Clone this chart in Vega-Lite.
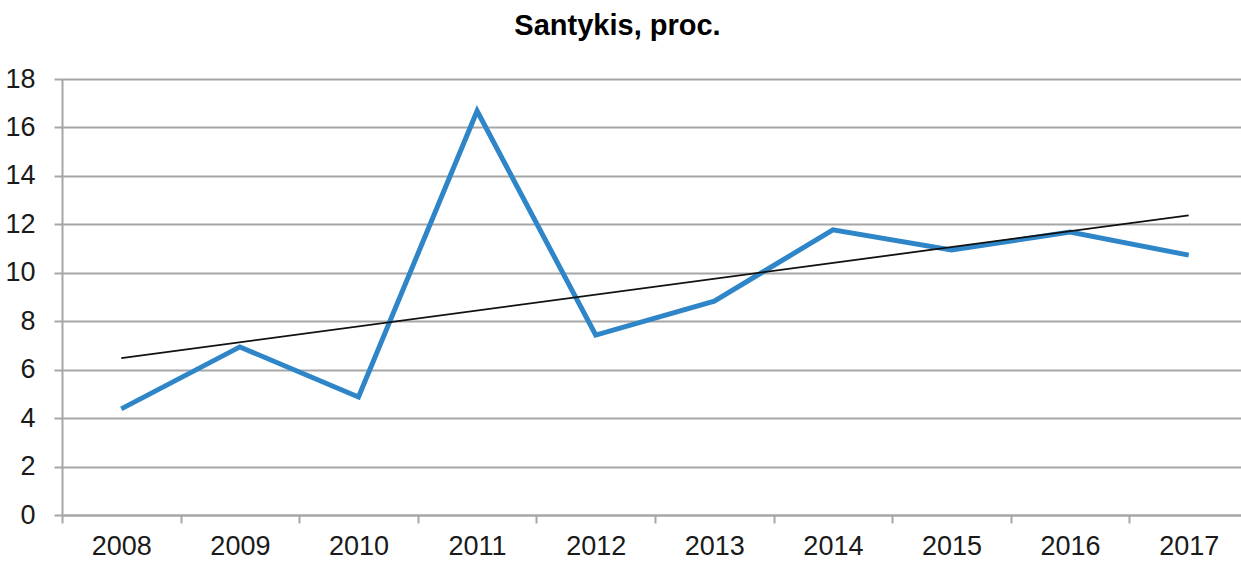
{
  "$schema": "https://vega.github.io/schema/vega-lite/v6.json",
  "autosize": "none",
  "width": 1179,
  "height": 436,
  "padding": {"left": 62, "top": 79, "right": 0, "bottom": 47},
  "background": "white",
  "title": {
    "text": "Santykis, proc.",
    "font": "Liberation Sans",
    "fontSize": 29,
    "fontWeight": "bold",
    "color": "#000000",
    "anchor": "middle",
    "dx": -34,
    "offset": 24
  },
  "data": {
    "values": [
      {"year": "2008", "value": 4.38, "trend": 6.48},
      {"year": "2009", "value": 6.94},
      {"year": "2010", "value": 4.87},
      {"year": "2011", "value": 16.68},
      {"year": "2012", "value": 7.43},
      {"year": "2013", "value": 8.83},
      {"year": "2014", "value": 11.77},
      {"year": "2015", "value": 10.94},
      {"year": "2016", "value": 11.68},
      {"year": "2017", "value": 10.73, "trend": 12.37}
    ]
  },
  "config": {
    "view": {"stroke": null},
    "axis": {
      "labelFont": "Liberation Sans",
      "labelFontSize": 27,
      "labelColor": "#1a1a1a",
      "domainColor": "#a6a6a6",
      "domainWidth": 2,
      "tickColor": "#a6a6a6",
      "tickWidth": 2,
      "tickSize": 8,
      "gridColor": "#a6a6a6",
      "gridWidth": 2,
      "title": null
    }
  },
  "encoding": {
    "x": {
      "field": "year",
      "type": "ordinal",
      "bandPosition": 0.5,
      "scale": {"type": "band", "paddingInner": 0, "paddingOuter": 0, "range": [0, 1186]},
      "axis": {"labelAngle": 0, "tickBand": "extent", "grid": false, "labelPadding": 10}
    }
  },
  "layer": [
    {
      "mark": {"type": "line", "color": "#2E86C8", "strokeWidth": 5, "strokeJoin": "miter", "strokeCap": "butt"},
      "encoding": {
        "y": {
          "field": "value",
          "type": "quantitative",
          "scale": {"domain": [0, 18], "nice": false},
          "axis": {"values": [0, 2, 4, 6, 8, 10, 12, 14, 16, 18], "grid": true, "labelPadding": 19}
        }
      }
    },
    {
      "transform": [{"filter": "datum.trend != null"}],
      "mark": {"type": "line", "color": "#111111", "strokeWidth": 1.8},
      "encoding": {
        "y": {"field": "trend", "type": "quantitative"}
      }
    }
  ]
}
